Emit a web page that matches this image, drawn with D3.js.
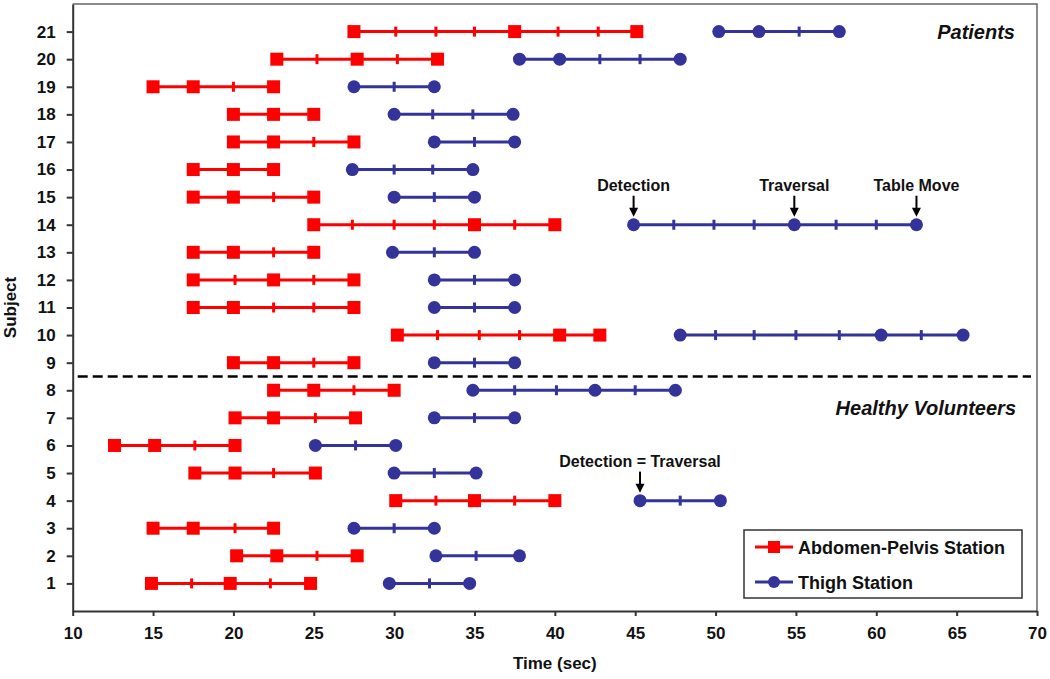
<!DOCTYPE html>
<html>
<head>
<meta charset="utf-8">
<script src="https://cdn.jsdelivr.net/npm/d3@7"></script>
<style>
  html, body { margin: 0; padding: 0; background: #fff; }
  svg text { font-family: "Liberation Sans", Arial, sans-serif; font-weight: bold; fill: #111; }
</style>
</head>
<body>
<div id="chart"></div>
<script>
// subject rows, bottom (1) to top (21)
const subjects = [1, 2, 3, 4, 5, 6, 7, 8, 9, 10, 11, 12, 13, 14, 15, 16, 17, 18, 19, 20, 21];

// abdomen-pelvis station frame times (sec) per subject
const abdTimes = [
  [14.9, 17.4, 19.8, 22.3, 24.8],
  [20.2, 22.7, 25.2, 27.7],
  [15.0, 17.5, 20.1, 22.5],
  [30.1, 32.6, 35.0, 37.5, 40.0],
  [17.6, 20.1, 22.5, 25.1],
  [12.6, 15.1, 17.6, 20.1],
  [20.1, 22.5, 25.1, 27.6],
  [22.5, 25.0, 27.5, 30.0],
  [20.0, 22.5, 25.0, 27.5],
  [30.2, 32.7, 35.3, 37.8, 40.3, 42.8],
  [17.5, 20.0, 22.5, 25.0, 27.5],
  [17.5, 20.1, 22.5, 25.0, 27.5],
  [17.5, 20.0, 22.5, 25.0],
  [25.0, 27.4, 30.0, 32.5, 35.0, 37.5, 40.0],
  [17.5, 20.0, 22.5, 25.0],
  [17.5, 20.0, 22.5],
  [20.0, 22.5, 25.0, 27.5],
  [20.0, 22.5, 25.0],
  [15.0, 17.5, 20.0, 22.5],
  [22.7, 25.2, 27.7, 30.2, 32.7],
  [27.5, 30.1, 32.6, 35.0, 37.5, 40.2, 42.7, 45.1]
];
// which frames are key events (squares)
const abdKeys = [
  [0, 2, 4], [0, 1, 3], [0, 1, 3], [0, 2, 4], [0, 1, 3], [0, 1, 3], [0, 1, 3],
  [0, 1, 3], [0, 1, 3], [0, 4, 5], [0, 1, 4], [0, 2, 4], [0, 1, 3], [0, 4, 6],
  [0, 1, 3], [0, 1, 2], [0, 1, 3], [0, 1, 2], [0, 1, 3], [0, 2, 4], [0, 4, 7]
];

// thigh station frame times (sec) per subject
const thighTimes = [
  [29.7, 32.2, 34.7],
  [32.6, 35.1, 37.8],
  [27.5, 30.0, 32.5],
  [45.3, 47.8, 50.3],
  [30.0, 32.5, 35.1],
  [25.1, 27.6, 30.1],
  [32.5, 35.0, 37.5],
  [34.9, 37.5, 40.1, 42.5, 45.0, 47.5],
  [32.5, 35.0, 37.5],
  [47.8, 50.0, 52.4, 55.0, 57.7, 60.3, 62.8, 65.4],
  [32.5, 35.0, 37.5],
  [32.5, 35.0, 37.5],
  [29.9, 32.5, 35.0],
  [44.9, 47.4, 49.9, 52.4, 54.9, 57.5, 60.0, 62.5],
  [30.0, 32.5, 35.0],
  [27.4, 30.0, 32.4, 34.9],
  [32.5, 35.0, 37.5],
  [30.0, 32.4, 34.9, 37.4],
  [27.5, 30.0, 32.5],
  [37.8, 40.3, 42.8, 45.3, 47.8],
  [50.2, 52.7, 55.2, 57.7]
];
// which frames are key events (circles)
const thighKeys = [
  [0, 2], [0, 2], [0, 2], [0, 2], [0, 2], [0, 2], [0, 2],
  [0, 3, 5], [0, 2], [0, 5, 7], [0, 2], [0, 2], [0, 2], [0, 4, 7],
  [0, 2], [0, 3], [0, 2], [0, 3], [0, 2], [0, 1, 4], [0, 1, 3]
];

const xTicks = [10, 15, 20, 25, 30, 35, 40, 45, 50, 55, 60, 65, 70];
const groupSplit = 8.5;

// arrow callouts: label, subject row, time pointed at
const calloutText = ["Detection", "Traversal", "Table Move", "Detection = Traversal"];
const calloutSubject = [14, 14, 14, 4];
const calloutTime = [44.9, 54.9, 62.5, 45.3];

const seriesNames = ["Abdomen-Pelvis Station", "Thigh Station"];
const RED = "#ff0000";
const BLUE = "#333399";

document.addEventListener('DOMContentLoaded', () => {
  drawChart();
});

function drawChart() {
  const width = 1050, height = 679;
  const plot = { left: 72.7, right: 1037, top: 4, bottom: 611 };

  const svg = d3.select("#chart").append("svg")
      .attr("width", width)
      .attr("height", height);

  const x = d3.scaleLinear().domain([10, 70]).range([plot.left, plot.right]);
  const y = d3.scaleLinear().domain([0, 22]).range([plot.bottom, plot.top]);

  // 1. Frame (top + right)
  svg.append("path")
      .attr("d", `M${plot.left},${plot.top}H${plot.right}V${plot.bottom}`)
      .attr("fill", "none")
      .attr("stroke", "#666")
      .attr("stroke-width", 1.5);

  // 2. Axes
  const xAxis = svg.append("g")
      .attr("transform", `translate(0,${plot.bottom})`)
      .call(d3.axisBottom(x).tickValues(xTicks).tickSize(5).tickSizeOuter(0).tickPadding(11));
  const yAxis = svg.append("g")
      .attr("transform", `translate(${plot.left},0)`)
      .call(d3.axisLeft(y).tickValues(subjects).tickSize(6).tickSizeOuter(0).tickPadding(11));

  [xAxis, yAxis].forEach(ax => {
    ax.select(".domain").attr("stroke", "#333").attr("stroke-width", 2);
    ax.selectAll(".tick line").attr("stroke", "#333").attr("stroke-width", 2);
    ax.selectAll(".tick text")
        .attr("font-family", "'Liberation Sans', Arial, sans-serif")
        .attr("font-weight", "bold")
        .attr("font-size", 17)
        .attr("fill", "#111");
  });

  svg.append("text")
      .attr("x", (plot.left + plot.right) / 2)
      .attr("y", 669)
      .attr("text-anchor", "middle")
      .attr("font-size", 17)
      .text("Time (sec)");

  svg.append("text")
      .attr("transform", `translate(16,${(plot.top + plot.bottom) / 2}) rotate(-90)`)
      .attr("text-anchor", "middle")
      .attr("font-size", 17)
      .text("Subject");

  // 3. Divider between patients and volunteers
  svg.append("line")
      .attr("x1", plot.left + 5)
      .attr("x2", plot.right - 6)
      .attr("y1", y(groupSplit))
      .attr("y2", y(groupSplit))
      .attr("stroke", "#000")
      .attr("stroke-width", 2.5)
      .attr("stroke-dasharray", "10,5");

  svg.append("text")
      .attr("x", 1015).attr("y", y(21) + 7)
      .attr("text-anchor", "end")
      .attr("font-size", 20)
      .attr("font-style", "italic")
      .text("Patients");

  svg.append("text")
      .attr("x", 1016).attr("y", y(7.5) + 11)
      .attr("text-anchor", "end")
      .attr("font-size", 20)
      .attr("font-style", "italic")
      .text("Healthy Volunteers");

  // 4. Station series
  drawSeries(svg, x, y, abdTimes, abdKeys, RED, "square");
  drawSeries(svg, x, y, thighTimes, thighKeys, BLUE, "circle");

  // 5. Callouts
  drawCallouts(svg, x, y);

  // 6. Legend
  drawLegend(svg);
}

function drawSeries(svg, x, y, times, keys, color, shape) {
  const rows = subjects.map((s, i) => ({ subject: s, times: times[i], keys: keys[i] }));

  const g = svg.append("g")
      .selectAll("g")
      .data(rows)
      .join("g")
      .attr("transform", d => `translate(0,${y(d.subject)})`);

  g.append("line")
      .attr("x1", d => x(d.times[0]))
      .attr("x2", d => x(d.times[d.times.length - 1]))
      .attr("stroke", color)
      .attr("stroke-width", 3);

  // intermediate frames as small bars
  g.selectAll("line.frame")
      .data(d => d.times.filter((t, i) => !d.keys.includes(i)))
      .join("line")
      .attr("class", "frame")
      .attr("x1", t => x(t)).attr("x2", t => x(t))
      .attr("y1", -5).attr("y2", 5)
      .attr("stroke", color)
      .attr("stroke-width", 3);

  const keyPts = g.selectAll(".key")
      .data(d => d.keys.map(k => d.times[k]));

  if (shape === "square") {
    keyPts.join("rect")
        .attr("class", "key")
        .attr("x", t => x(t) - 6.5)
        .attr("y", -6.5)
        .attr("width", 13)
        .attr("height", 13)
        .attr("fill", color);
  } else {
    keyPts.join("circle")
        .attr("class", "key")
        .attr("cx", t => x(t))
        .attr("r", 6.5)
        .attr("fill", color);
  }
}

function drawCallouts(svg, x, y) {
  calloutText.forEach((txt, i) => {
    const cx = x(calloutTime[i]);
    const cy = y(calloutSubject[i]);
    const g = svg.append("g");
    g.append("text")
        .attr("x", cx)
        .attr("y", cy - 34)
        .attr("text-anchor", "middle")
        .attr("font-size", 16)
        .text(txt);
    g.append("line")
        .attr("x1", cx).attr("x2", cx)
        .attr("y1", cy - 29).attr("y2", cy - 15)
        .attr("stroke", "#000")
        .attr("stroke-width", 2);
    g.append("path")
        .attr("d", `M${cx - 4.5},${cy - 17}L${cx + 4.5},${cy - 17}L${cx},${cy - 8}Z`)
        .attr("fill", "#000");
  });
}

function drawLegend(svg) {
  const box = { x: 744, y: 530, w: 278, h: 68 };
  const lg = svg.append("g");
  lg.append("rect")
      .attr("x", box.x).attr("y", box.y)
      .attr("width", box.w).attr("height", box.h)
      .attr("fill", "#fff")
      .attr("stroke", "#333")
      .attr("stroke-width", 1.5);

  const colors = [RED, BLUE];
  seriesNames.forEach((name, i) => {
    const ly = box.y + 17 + i * 35;
    lg.append("line")
        .attr("x1", 755).attr("x2", 793)
        .attr("y1", ly).attr("y2", ly)
        .attr("stroke", colors[i])
        .attr("stroke-width", 3);
    if (i === 0) {
      lg.append("rect")
          .attr("x", 774 - 6).attr("y", ly - 6)
          .attr("width", 12).attr("height", 12)
          .attr("fill", colors[i]);
    } else {
      lg.append("circle")
          .attr("cx", 774).attr("cy", ly)
          .attr("r", 6)
          .attr("fill", colors[i]);
    }
    lg.append("text")
        .attr("x", 798)
        .attr("y", ly + 6.5)
        .attr("font-size", 18)
        .text(name);
  });
}
</script>
</body>
</html>
